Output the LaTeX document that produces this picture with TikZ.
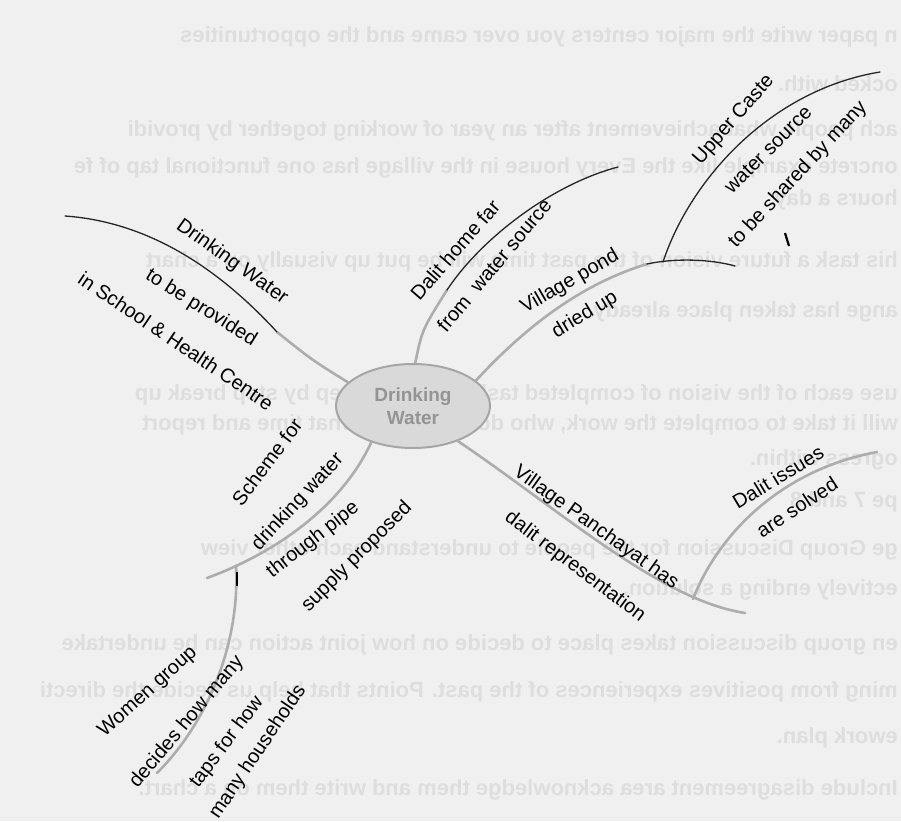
\documentclass[tikz,border=0pt]{standalone}
\usepackage{fontspec}
\setmainfont{Liberation Sans}
\usetikzlibrary{shapes.geometric}

\begin{document}
\begin{tikzpicture}[x=1pt,y=-1pt]
	\tikzset{
		lbl/.style={font=\fontsize{20}{22}\selectfont,inner sep=0pt},
		br/.style={draw=black!32,line width=2.6pt,line cap=round},
		brk/.style={draw=black!85,line width=1.3pt,line cap=round},
		bgtxt/.style={anchor=west,text=black!13,inner sep=0pt,font=\fontsize{22}{24}\selectfont\bfseries}
	}
	\useasboundingbox (0,0) rectangle (901,821);
	\fill[black!6] (0,0) rectangle (901,821);

	%% faint text showing through from the back of the page
	\begin{scope}[xshift=901pt,xscale=-1,transform shape]
		\node[bgtxt] (bg1) at (3,37) {n paper write the major centers you over came and the opportunities};
		\node[bgtxt] (bg2) at (3,84) {ocked with.};
		\node[bgtxt] (bg3) at (3,131) {ach people what achievement after an year of working together by providi};
		\node[bgtxt] (bg4) at (3,168) {oncrete example like the Every house in the village has one functional tap of fe};
		\node[bgtxt] (bg5) at (3,200) {hours a day.};
		\node[bgtxt] (bg6) at (3,262) {his task a future vision of the past time will be put up visually on a chart};
		\node[bgtxt] (bg7) at (3,312) {ange has taken place already.};
		\node[bgtxt] (bg8) at (3,395) {use each of the vision of completed task to make a step by step break up};
		\node[bgtxt] (bg9) at (3,425) {will it take to complete the work, who does what by what time and report};
		\node[bgtxt] (bg10) at (3,460) {ogress within.};
		\node[bgtxt] (bg11) at (3,502) {pe 7 and 8};
		\node[bgtxt] (bg12) at (3,550) {ge Group Discussion for the people to understand each other view};
		\node[bgtxt] (bg13) at (3,590) {ectively ending a solution.};
		\node[bgtxt] (bg14) at (3,645) {en group discussion takes place to decide on how joint action can be undertake};
		\node[bgtxt] (bg15) at (3,692) {ming from positives experiences of the past. Points that help us decide the directi};
		\node[bgtxt] (bg16) at (3,738) {ework plan.};
		\node[bgtxt] (bg17) at (3,790) {Include disagreement area acknowledge them and write them on a chart.};
	\end{scope}

	%% centre
	\node[ellipse,draw=black!35,line width=2pt,fill=black!15,minimum width=154pt,minimum height=84pt,
		inner sep=0pt,align=center,text=black!42,font=\fontsize{19}{23}\selectfont\bfseries] (dw) at (413,406) {Drinking\\Water};

	%% branch ends and joints
	\coordinate (k1) at (277,332);
	\coordinate (e1) at (65,216);
	\coordinate (k2) at (447,290);
	\coordinate (e2) at (618,167);
	\coordinate (k3) at (647,264);
	\coordinate (e3) at (735,266);
	\coordinate (j3) at (663,262);
	\coordinate (e3u) at (880,72);
	\coordinate (e4) at (745,613);
	\coordinate (j4) at (693,599);
	\coordinate (e4d) at (877,452);
	\coordinate (e5) at (207,578);
	\coordinate (j5) at (236,566);
	\coordinate (e5w) at (157,773);

	%% branches
	\draw[br] (dw.160) .. controls (312,360) .. (k1);
	\draw[brk] (k1) .. controls (220,270) and (150,222) .. (e1);
	\draw[br] (dw.87) .. controls (422,330) .. (k2);
	\draw[brk] (k2) .. controls (480,240) and (550,185) .. (e2);
	\draw[br] (dw.22) .. controls (530,322) and (585,283) .. (k3);
	\draw[brk] (k3) .. controls (675,258) and (710,259) .. (e3);
	\draw[brk] (j3) .. controls (690,180) and (770,90) .. (e3u);
	\draw[br] (dw.-38) .. controls (560,510) and (660,600) .. (e4);
	\draw[br] (j4) .. controls (718,535) and (780,470) .. (e4d);
	\draw[br] (dw.221) .. controls (340,510) and (270,555) .. (e5);
	\draw[br] (j5) .. controls (240,640) and (210,720) .. (e5w);

	%% marks
	\draw[black,line width=1.6pt] (237,572) -- (237,586);
	\draw[black,line width=2.2pt] (785,233) -- (789,246);

	%% labels
	\node[lbl,rotate=-35.5] (l1a) at (232,262) {Drinking Water};
	\node[lbl,rotate=-32] (l1b) at (201,308) {to be provided};
	\node[lbl,rotate=-34] (l1c) at (176,341) {in School \& Health Centre};
	\node[lbl,rotate=49] (l2a) at (455,250) {Dalit home far};
	\node[lbl,rotate=50] (l2b) at (494,265) {from \ water source};
	\node[lbl,rotate=30] (l3a) at (570,282) {Village pond};
	\node[lbl,rotate=31] (l3b) at (585,315) {dried up};
	\node[lbl,rotate=49] (l3c) at (734,120) {Upper Caste};
	\node[lbl,rotate=45] (l3d) at (768,150) {water source};
	\node[lbl,rotate=47] (l3e) at (798,175) {to be shared by many};
	\node[lbl,rotate=-35.5] (l4a) at (596,528) {Village Panchayat has};
	\node[lbl,rotate=-37] (l4b) at (575,567) {dalit representation};
	\node[lbl,rotate=31] (l4c) at (778,477) {Dalit issues};
	\node[lbl,rotate=33] (l4d) at (797,507) {are solved};
	\node[lbl,rotate=53] (l5a) at (267,462) {Scheme for};
	\node[lbl,rotate=47] (l5b) at (298,502) {drinking water};
	\node[lbl,rotate=38] (l5c) at (313,540) {through pipe};
	\node[lbl,rotate=45] (l5d) at (357,557) {supply proposed};
	\node[lbl,rotate=42] (l5e) at (148,692) {Women group};
	\node[lbl,rotate=50] (l5f) at (187,722) {decides how many};
	\node[lbl,rotate=53] (l5g) at (227,742) {taps for how};
	\node[lbl,rotate=56] (l5h) at (258,752) {many households};
\end{tikzpicture}
\end{document}
